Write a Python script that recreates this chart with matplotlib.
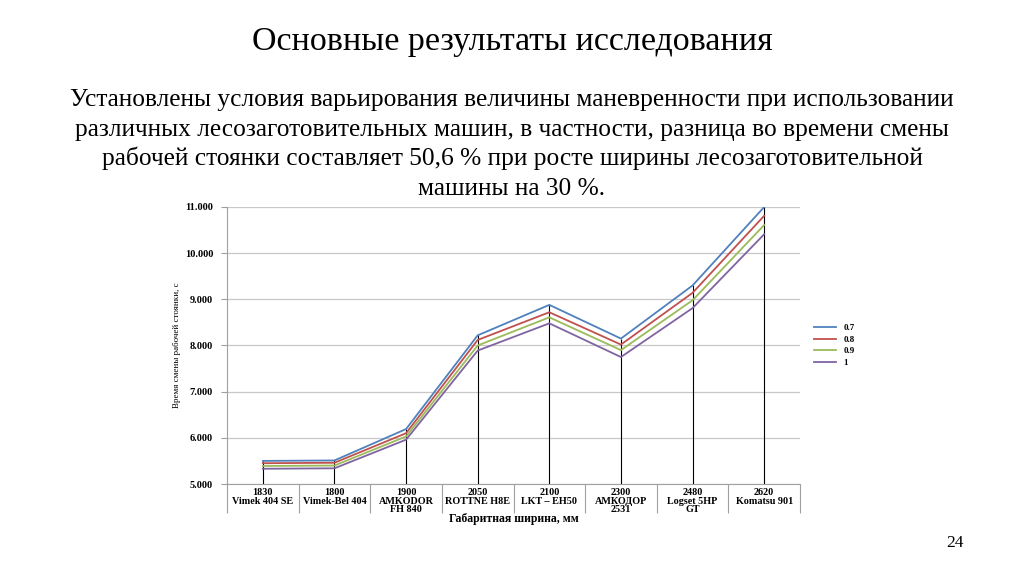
import numpy as np
import matplotlib
matplotlib.use('Agg')
import matplotlib.pyplot as plt
from matplotlib.ticker import FixedLocator, NullFormatter, FuncFormatter

plt.rcParams['font.family'] = ['Liberation Serif', 'DejaVu Serif']

# Data
widths = ['1830', '1800', '1900', '2050', '2100', '2300', '2480', '2620']
machines = ['Vimek 404 SE', 'Vimek-Bel 404', 'AMKODOR\nFH 840', 'ROTTNE H8E',
            'LKT – EH50', 'АМКОДОР\n2531', 'Logset 5HP\nGT', 'Komatsu 901']
series_names = ['0.7', '0.8', '0.9', '1']
s07 = [5.50, 5.51, 6.19, 8.22, 8.88, 8.15, 9.30, 11.00]
s08 = [5.45, 5.46, 6.10, 8.12, 8.72, 8.02, 9.14, 10.81]
s09 = [5.39, 5.40, 6.03, 8.00, 8.61, 7.90, 8.98, 10.61]
s10 = [5.33, 5.34, 5.96, 7.89, 8.48, 7.75, 8.81, 10.41]
colors = ['#4F81BD', '#C0504D', '#9BBB59', '#8064A2']

title = 'Основные результаты исследования'
body = ['Установлены условия варьирования величины маневренности при использовании',
        'различных лесозаготовительных машин, в частности, разница во времени смены',
        'рабочей стоянки составляет 50,6 % при росте ширины лесозаготовительной',
        'машины на 30 %.']

fig = plt.figure(figsize=(10.24, 5.74), dpi=100)
fig.text(0.5, 1 - 50 / 574, title, ha='center', va='baseline', fontsize=24.5)
for i, line in enumerate(body):
    fig.text(0.5, 1 - (106 + 29.7 * i) / 574, line, ha='center', va='baseline', fontsize=18.3)
fig.text(955 / 1024, 1 - 543 / 574, '24', ha='center', va='center', fontsize=12.5)

ax = fig.add_axes([227 / 1024, 1 - 484 / 574, 573 / 1024, 277 / 574])
x = np.arange(len(widths))
all_series = [s07, s08, s09, s10]
for vals, name, c in zip(all_series, series_names, colors):
    ax.plot(x, vals, color=c, lw=1.3, label=name)

# drop lines from the highest series
tops = np.max(np.array(all_series), axis=0)
ax.vlines(x, 5, tops, color='black', lw=0.8, zorder=1)

ax.set_xlim(-0.5, len(widths) - 0.5)
ax.set_ylim(5, 11)
ax.set_yticks(np.arange(5, 12, 1))
ax.yaxis.set_major_formatter(FuncFormatter(lambda v, p: f'{v:.3f}'))
ax.grid(axis='y', color='#c8c8c8', lw=0.9)
ax.set_axisbelow(True)
for s in ['top', 'right']:
    ax.spines[s].set_visible(False)
for s in ['left', 'bottom']:
    ax.spines[s].set_color('#a0a0a0')
ax.tick_params(axis='y', length=4, color='#a0a0a0', labelsize=7.5, pad=6)
for t in ax.get_yticklabels():
    t.set_fontweight('bold')

# category boundaries as long ticks, labels at centers
ax.xaxis.set_major_locator(FixedLocator(np.arange(-0.5, len(widths), 1)))
ax.xaxis.set_major_formatter(NullFormatter())
ax.tick_params(axis='x', which='major', length=21, color='#a0a0a0')
ax.set_xticks(x, minor=True)
ax.set_xticklabels([w + '\n' + m for w, m in zip(widths, machines)], minor=True,
                   fontsize=7.3, fontweight='bold', linespacing=0.95)
ax.tick_params(axis='x', which='minor', length=0, pad=3)

ax.set_xlabel('Габаритная ширина, мм', fontsize=8.5, fontweight='bold')
ax.xaxis.set_label_coords(0.5, -0.103)
ax.set_ylabel('Время смены рабочей стоянки, с', fontsize=6.5, labelpad=3)

ax.legend(loc='center left', bbox_to_anchor=(1.01, 0.5), frameon=False,
          prop={'size': 6.5, 'weight': 'bold'}, handlelength=2.5, labelspacing=0.35)

fig.savefig('out.png', dpi=100)
